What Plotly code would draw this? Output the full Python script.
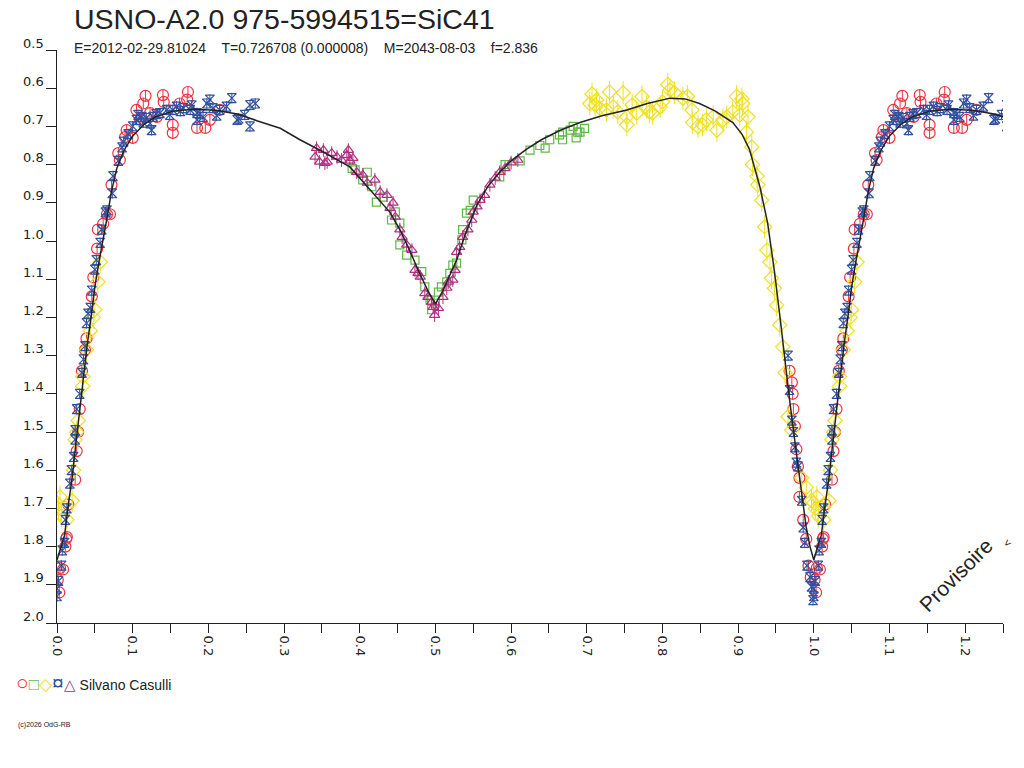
import plotly.graph_objects as go

# ── Light curve data (phase, magnitude) ─────────────────────────
# model curve
model_ph = [0.000, 0.005, 0.010, 0.015, 0.020, 0.025, 0.030, 0.035, 0.040, 0.045,
            0.050, 0.055, 0.060, 0.066, 0.072, 0.079, 0.088, 0.100, 0.115, 0.130,
            0.153, 0.180, 0.210, 0.240, 0.264, 0.295, 0.321, 0.350, 0.387, 0.420,
            0.440, 0.453, 0.465, 0.478, 0.490, 0.500, 0.510, 0.520, 0.528, 0.540,
            0.555, 0.570, 0.585, 0.600, 0.620, 0.640, 0.665, 0.691, 0.720, 0.753,
            0.780, 0.810, 0.830, 0.849, 0.870, 0.893, 0.905, 0.915, 0.929, 0.939,
            0.948, 0.956, 0.962, 0.968, 0.977, 0.985, 0.990, 0.995]
model_mag = [1.835, 1.80, 1.77, 1.69, 1.62, 1.53, 1.44, 1.35, 1.27, 1.20,
             1.12, 1.06, 1.00, 0.94, 0.87, 0.81, 0.765, 0.725, 0.695, 0.675,
             0.66, 0.655, 0.658, 0.668, 0.685, 0.705, 0.735, 0.765, 0.806, 0.88,
             0.925, 0.97, 1.02, 1.08, 1.13, 1.165, 1.13, 1.085, 1.05, 0.98,
             0.905, 0.855, 0.82, 0.79, 0.76, 0.735, 0.71, 0.69, 0.672, 0.657,
             0.64, 0.626, 0.628, 0.64, 0.66, 0.69, 0.72, 0.76, 0.86, 0.953,
             1.08, 1.21, 1.32, 1.416, 1.555, 1.68, 1.75, 1.80]

# red circles
red_ph = [0.001, 0.004, 0.008, 0.011, 0.013, 0.015, 0.024, 0.026, 0.028, 0.030,
          0.033, 0.037, 0.039, 0.046, 0.048, 0.053, 0.054, 0.061, 0.070, 0.066,
          0.072, 0.081, 0.083, 0.090, 0.092, 0.100, 0.105, 0.110, 0.114, 0.117,
          0.123, 0.132, 0.140, 0.141, 0.153, 0.153, 0.162, 0.172, 0.173, 0.185,
          0.196, 0.202, 0.215, 0.968, 0.971, 0.972, 0.973, 0.975, 0.977, 0.979,
          0.981, 0.981, 0.986, 0.990, 0.993, 0.996, 0.012, 0.003]
red_mag = [1.887, 1.856, 1.86, 1.80, 1.775, 1.69, 1.625, 1.55, 1.50, 1.44,
           1.34, 1.285, 1.255, 1.145, 1.095, 1.02, 0.97, 0.955, 0.93, 0.93,
           0.853, 0.77, 0.788, 0.728, 0.71, 0.73, 0.657, 0.683, 0.64, 0.62,
           0.665, 0.675, 0.618, 0.636, 0.696, 0.717, 0.64, 0.63, 0.61, 0.704,
           0.704, 0.683, 0.657, 1.34, 1.37, 1.40, 1.44, 1.485, 1.545, 1.59,
           1.62, 1.67, 1.73, 1.78, 1.85, 1.88, 1.78, 1.92]

# green squares
green_ph = [0.390, 0.394, 0.404, 0.410, 0.416, 0.422, 0.431, 0.442, 0.447, 0.453,
            0.453, 0.462, 0.473, 0.482, 0.486, 0.493, 0.495, 0.500, 0.504, 0.508,
            0.515, 0.519, 0.523, 0.528, 0.535, 0.536, 0.541, 0.546, 0.550, 0.585,
            0.592, 0.612, 0.625, 0.638, 0.645, 0.651, 0.664, 0.668, 0.668, 0.678,
            0.682, 0.686, 0.688, 0.691, 0.697]
green_mag = [0.81, 0.814, 0.84, 0.82, 0.858, 0.898, 0.885, 0.945, 0.924, 0.953,
             1.01, 1.037, 1.05, 1.08, 1.12, 1.155, 1.18, 1.163, 1.134, 1.12,
             1.107, 1.085, 1.063, 1.058, 0.997, 0.97, 0.927, 0.92, 0.893, 0.832,
             0.80, 0.79, 0.762, 0.75, 0.757, 0.735, 0.722, 0.715, 0.735, 0.71,
             0.70, 0.73, 0.715, 0.715, 0.705]

# yellow diamonds
yellow_ph = [0.000, 0.002, 0.004, 0.006, 0.013, 0.020, 0.022, 0.024, 0.026, 0.028,
             0.034, 0.034, 0.039, 0.044, 0.048, 0.050, 0.054, 0.057,
             0.704, 0.707, 0.711, 0.713, 0.717, 0.726, 0.730, 0.735, 0.741, 0.748,
             0.753, 0.753, 0.760, 0.766, 0.773, 0.779, 0.783, 0.787, 0.797, 0.800,
             0.807, 0.810, 0.816, 0.827, 0.833, 0.839, 0.840, 0.847, 0.853, 0.858,
             0.867, 0.872, 0.880, 0.885, 0.893, 0.898, 0.902, 0.905, 0.906, 0.911,
             0.913, 0.918, 0.919, 0.925, 0.926, 0.931, 0.935, 0.938, 0.942, 0.944,
             0.948, 0.951, 0.955, 0.959, 0.962, 0.966, 0.971, 0.984, 0.990, 0.997]
yellow_mag = [1.686, 1.70, 1.67, 1.72, 1.73, 1.68, 1.60, 1.52, 1.50, 1.47,
              1.38, 1.355, 1.285, 1.235, 1.20, 1.18, 1.107, 1.055,
              0.64, 0.615, 0.644, 0.631, 0.652, 0.657, 0.61, 0.649, 0.662, 0.612,
              0.675, 0.696, 0.644, 0.665, 0.622, 0.649, 0.662, 0.665, 0.649, 0.636,
              0.59, 0.605, 0.612, 0.626, 0.622, 0.657, 0.69, 0.70, 0.696, 0.683,
              0.675, 0.71, 0.683, 0.675, 0.662, 0.622, 0.67, 0.628, 0.64, 0.715,
              0.675, 0.754, 0.80, 0.83, 0.853, 0.893, 0.963, 1.024, 1.055, 1.097,
              1.124, 1.168, 1.22, 1.277, 1.345, 1.46, 1.495, 1.62, 1.645, 1.68]

# blue hourglasses
blue_ph = [0.000, 0.000, 0.002, 0.006, 0.007, 0.010, 0.011, 0.013, 0.017, 0.019,
           0.022, 0.024, 0.024, 0.026, 0.030, 0.033, 0.035, 0.037, 0.039, 0.041,
           0.044, 0.046, 0.050, 0.052, 0.057, 0.059, 0.064, 0.066, 0.073, 0.074,
           0.081, 0.086, 0.088, 0.094, 0.100, 0.105, 0.107, 0.114, 0.118, 0.123,
           0.125, 0.127, 0.136, 0.145, 0.153, 0.158, 0.167, 0.176, 0.178, 0.185,
           0.185, 0.193, 0.198, 0.202, 0.206, 0.215, 0.224, 0.231, 0.238, 0.240,
           0.248, 0.255, 0.255, 0.262, 0.112, 0.131, 0.149, 0.163, 0.189, 0.211,
           0.966, 0.968, 0.971, 0.973, 0.975, 0.977, 0.979, 0.984, 0.986, 0.988,
           0.991, 0.995, 0.997, 0.999]
blue_mag = [1.93, 1.91, 1.89, 1.85, 1.81, 1.79, 1.73, 1.70, 1.635, 1.60,
            1.565, 1.52, 1.495, 1.44, 1.40, 1.345, 1.31, 1.275, 1.215, 1.19,
            1.175, 1.13, 1.075, 1.05, 1.005, 0.97, 0.925, 0.92, 0.875, 0.83,
            0.79, 0.755, 0.74, 0.72, 0.70, 0.683, 0.67, 0.69, 0.678, 0.692,
            0.71, 0.675, 0.665, 0.657, 0.657, 0.648, 0.652, 0.657, 0.645, 0.665,
            0.683, 0.675, 0.64, 0.63, 0.652, 0.657, 0.648, 0.626, 0.683, 0.68,
            0.67, 0.644, 0.70, 0.64, 0.675, 0.668, 0.67, 0.66, 0.668, 0.672,
            1.30, 1.39, 1.47, 1.50, 1.54, 1.58, 1.59, 1.68, 1.75, 1.79,
            1.85, 1.88, 1.905, 1.94]

# purple triangles
purple_ph = [0.341, 0.343, 0.347, 0.352, 0.354, 0.357, 0.363, 0.370, 0.376, 0.383,
             0.385, 0.387, 0.391, 0.396, 0.404, 0.410, 0.420, 0.427, 0.436, 0.440,
             0.444, 0.447, 0.453, 0.456, 0.462, 0.469, 0.473, 0.477, 0.480, 0.486,
             0.490, 0.495, 0.497, 0.499, 0.504, 0.510, 0.515, 0.517, 0.523, 0.526,
             0.528, 0.532, 0.536, 0.543, 0.548, 0.550, 0.555, 0.559, 0.565, 0.572,
             0.579, 0.585, 0.592, 0.600, 0.609]
purple_mag = [0.78, 0.757, 0.793, 0.762, 0.796, 0.793, 0.77, 0.78, 0.788, 0.775,
              0.762, 0.79, 0.783, 0.82, 0.827, 0.848, 0.84, 0.872, 0.88, 0.914,
              0.90, 0.937, 0.97, 0.99, 1.01, 1.024, 1.076, 1.084, 1.094, 1.137,
              1.147, 1.16, 1.173, 1.194, 1.176, 1.147, 1.123, 1.107, 1.102, 1.076,
              1.029, 1.016, 0.99, 0.97, 0.945, 0.924, 0.91, 0.893, 0.88, 0.853,
              0.835, 0.82, 0.81, 0.795, 0.788]

y_ticks = [0.5, 0.6, 0.7, 0.8, 0.9, 1.0, 1.1, 1.2, 1.3, 1.4, 1.5, 1.6, 1.7, 1.8, 1.9, 2.0]


def wrap(ph, mag):
    # phase diagram: repeat the first quarter of the cycle after phase 1
    xs = list(ph) + [p + 1 for p in ph if p < 0.3]
    ys = list(mag) + [m for p, m in zip(ph, mag) if p < 0.3]
    return xs, ys


series = [
    (red_ph, red_mag, '#F03040', 'circle-open', 11, 0.014),
    (green_ph, green_mag, '#60B848', 'square-open', 8, 0.0),
    (yellow_ph, yellow_mag, '#F0E020', 'diamond-open', 11, 0.03),
    (blue_ph, blue_mag, '#3050A0', 'hourglass-open', 9, 0.014),
    (purple_ph, purple_mag, '#B03080', 'triangle-up-open', 9, 0.018),
]

fig = go.Figure()

for ph, mag, col, sym, sz, err in series:
    xs, ys = wrap(ph, mag)
    fig.add_trace(go.Scatter(
        x=xs, y=ys, mode='markers',
        marker=dict(symbol=sym, size=sz, color=col, line=dict(width=1.2, color=col)),
        error_y=dict(type='constant', value=err, color=col, thickness=1, width=0,
                     visible=err > 0),
        showlegend=False
    ))

# model curve
mx = sorted(zip(*wrap(model_ph, model_mag)))
fig.add_trace(go.Scatter(
    x=[p for p, _ in mx], y=[m for _, m in mx], mode='lines',
    line=dict(color='#222222', width=1.5), showlegend=False
))

# y tick labels sit a little above their ticks in the original
for v in y_ticks:
    fig.add_annotation(text=f"{v:.1f}", x=0, y=v, xref='paper', yref='y',
        xanchor='right', yanchor='middle', xshift=-11, yshift=7, showarrow=False,
        font=dict(family='DejaVu Sans', size=13, color='#222222'))


# page pixel -> paper coords (plot area spans x 57..1003, y 50..623)
def px(x):
    return (x - 57) / 946


def py(y):
    return (623 - y) / 573


fig.add_annotation(text="USNO-A2.0 975-5994515=SiC41",
    x=px(72), y=py(19), xref='paper', yref='paper', xanchor='left', yanchor='middle',
    showarrow=False, font=dict(size=28.5, color='#222222'))
sp = '\u00a0' * 4
fig.add_annotation(text=f"E=2012-02-29.81024{sp}T=0.726708 (0.000008){sp}M=2043-08-03{sp}f=2.836",
    x=px(72), y=py(48), xref='paper', yref='paper', xanchor='left', yanchor='middle',
    showarrow=False, font=dict(size=14, color='#222222'))

legend_txt = ('<span style="color:#F03040;font-size:21px">○</span>'
              '<span style="color:#60B848;font-size:17px">□</span>'
              '<span style="color:#F0E020;font-size:17px">◇</span>'
              '<span style="color:#3050A0;font-size:21px">¤</span>'
              '<span style="color:#B03080;font-size:15px">△</span>'
              ' Silvano Casulli')
fig.add_annotation(text=legend_txt, x=px(14), y=py(683), xref='paper', yref='paper',
    xanchor='left', yanchor='middle', showarrow=False,
    font=dict(size=14, color='#222222'))
fig.add_annotation(text="(c)2026 OdG-RB", x=px(16), y=py(725), xref='paper', yref='paper',
    xanchor='left', yanchor='middle', showarrow=False, font=dict(size=7, color='#222222'))
fig.add_annotation(text="Provisoire", x=px(955), y=py(575), xref='paper', yref='paper',
    xanchor='center', yanchor='middle',
    showarrow=False, textangle=-45, font=dict(size=21, color='#222222'))
fig.add_annotation(text="<", x=px(1007), y=py(543), xref='paper', yref='paper',
    xanchor='center', yanchor='middle',
    showarrow=False, textangle=-45, font=dict(size=11, color='#222222'))

# ── Layout ───────────────────────────────────────────────────────
# the page has an 8px body margin, so the figure is shifted by that much
fig.update_layout(
    width=1016, height=760,
    margin=dict(l=49, r=21, t=42, b=145),
    paper_bgcolor='white', plot_bgcolor='white',
    font=dict(family='Liberation Sans, Arial, sans-serif', size=13, color='#222222'),
)
fig.update_xaxes(
    range=[0, 1.25], tickmode='linear', tick0=0, dtick=0.1, tickformat='.1f',
    tickangle=90, ticks='outside', ticklen=9, tickcolor='#222222',
    minor=dict(dtick=0.05, tick0=0, ticks='outside', ticklen=9, tickcolor='#222222', showgrid=False),
    showline=True, linecolor='#222222', linewidth=1, showgrid=False, zeroline=False,
    tickfont=dict(family='DejaVu Sans', size=13)
)
fig.update_yaxes(
    range=[2.0, 0.5], tickvals=y_ticks, showticklabels=False,
    ticks='outside', ticklen=10, tickcolor='#222222',
    showline=True, linecolor='#222222', linewidth=1, showgrid=False, zeroline=False
)

fig.write_html("out.html")
